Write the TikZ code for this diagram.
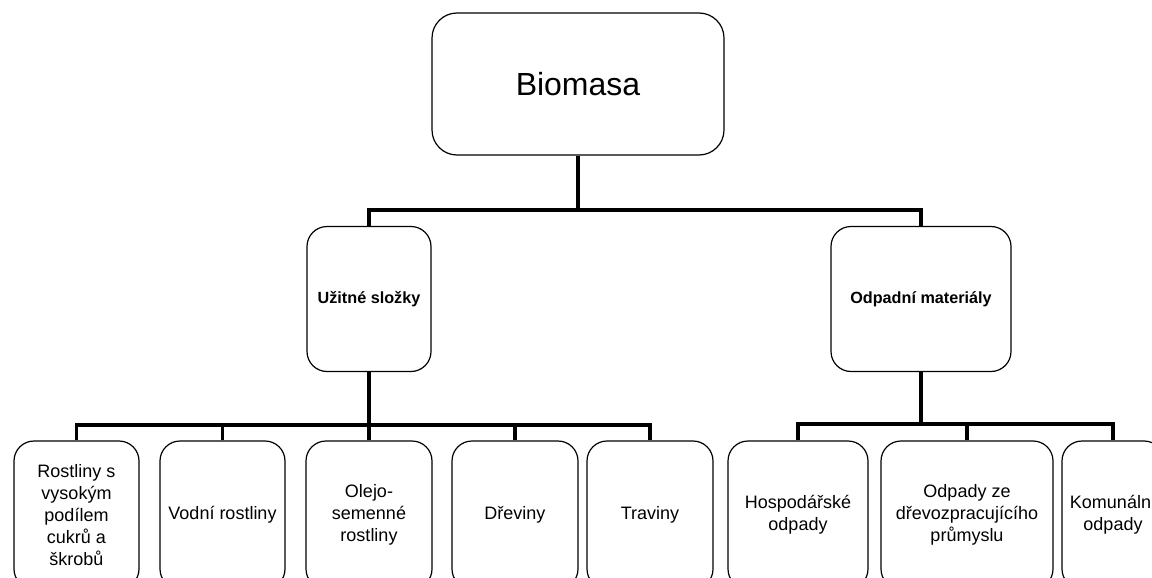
\documentclass[tikz,border=0pt]{standalone}
\usepackage{fontspec}
\setmainfont{Liberation Sans}
\begin{document}
\begin{tikzpicture}[x=1pt,y=-1pt,
  box/.style={draw=black,line width=1.2pt,rounded corners=20pt,inner sep=0pt,align=center,
    font=\fontsize{18}{22}\selectfont},
  topbox/.style={box,rounded corners=25pt,minimum width=292pt,minimum height=142pt,
    font=\fontsize{32}{38}\selectfont},
  midbox/.style={box,minimum height=145pt,font=\fontsize{16.2}{19}\selectfont\bfseries},
  leaf/.style={box,minimum height=148pt},
  conn/.style={draw=black,line width=3.8pt}]
\useasboundingbox (0,0) rectangle (1152,578);
\clip (0,0) rectangle (1152,578);
\fill[white] (0,0) rectangle (1152,578);

\node[topbox] (bio) at (578,84) {Biomasa};
\node[midbox,minimum width=124pt] (uz) at (369,299) {Užitné složky};
\node[midbox,minimum width=180pt] (od) at (921,299) {Odpadní materiály};

\node[leaf,minimum width=125pt] (b1) at (76.5,515) {Rostliny s\\vysokým\\podílem\\cukrů a\\škrobů};
\node[leaf,minimum width=125pt] (b2) at (222.5,515) {Vodní rostliny};
\node[leaf,minimum width=126pt] (b3) at (369,515) {Olejo-\\semenné\\rostliny};
\node[leaf,minimum width=126pt] (b4) at (515,515) {Dřeviny};
\node[leaf,minimum width=126pt] (b5) at (650,515) {Traviny};
\node[leaf,minimum width=140pt] (c1) at (798,515) {Hospodářské\\odpady};
\node[leaf,minimum width=172pt] (c2) at (967,515) {Odpady ze\\dřevozpracujícího\\průmyslu};
\node[leaf,minimum width=102pt] (c3) at (1113,515) {Komunální\\odpady};

\coordinate (bar0) at (578,210);
\coordinate (bar1) at (369,425);
\coordinate (bar2) at (921,424);

\draw[conn] (bio.south) -- (bar0);
\draw[conn] (uz.north) |- (bar0) -| (od.north);

\draw[conn] (uz.south) -- (bar1);
\draw[conn] (b1.north) |- (bar1) -| (b5.north);
\draw[conn] (b2.north) -- (b2.north |- bar1);
\draw[conn] (b3.north) -- (bar1);
\draw[conn] (b4.north) -- (b4.north |- bar1);

\draw[conn] (od.south) -- (bar2);
\draw[conn] (c1.north) |- (bar2) -| (c3.north);
\draw[conn] (c2.north) -- (c2.north |- bar2);
\end{tikzpicture}
\end{document}
